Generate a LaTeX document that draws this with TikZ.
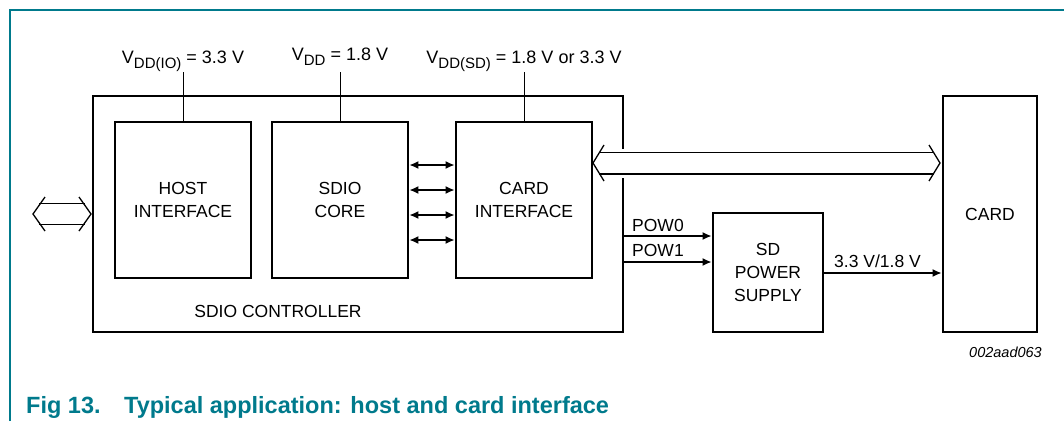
\documentclass[tikz,border=0pt]{standalone}
\usepackage{fontspec}
\setmainfont{Liberation Sans}
\usetikzlibrary{arrows.meta}
\definecolor{teal}{RGB}{0,122,140}
\newcommand{\subtxt}[1]{\raisebox{-5pt}{\fontsize{15}{15}\selectfont #1}}
\begin{document}
\begin{tikzpicture}[x=1pt,y=-1pt,
  blk/.style={draw,line width=2.8pt,inner sep=0pt,align=center,font=\fontsize{17.5}{22.8}\selectfont},
  lbl/.style={inner sep=0pt,font=\fontsize{17.5}{22.8}\selectfont},
  vlbl/.style={inner sep=0pt,font=\fontsize{18}{22}\selectfont},
  thin/.style={line width=1pt},
  sig/.style={line width=1.5pt,-{Latex[length=9pt,width=8pt]}},
  dsig/.style={line width=1.5pt,{Latex[length=9pt,width=8pt]}-{Latex[length=9pt,width=8pt]}},
  hollow/.style={line width=1.3pt,line join=miter}]
\useasboundingbox (0,0) rectangle (1064,421);
% frame
\draw[teal,line width=1.5pt] (10,421) -- (10,10) -- (1064,10);
% blocks
\node[blk,minimum width=530pt,minimum height=236pt] (ctrl) at (358,214) {};
\node[blk,minimum width=136pt,minimum height=156pt] (host) at (183,200) {HOST\\INTERFACE};
\node[blk,minimum width=136pt,minimum height=156pt] (core) at (340,200) {SDIO\\CORE};
\node[blk,minimum width=136pt,minimum height=156pt] (cif) at (524,200) {CARD\\INTERFACE};
\node[blk,minimum width=110pt,minimum height=119pt] (psu) at (768,272.5) {SD\\POWER\\SUPPLY};
\node[blk,minimum width=94pt,minimum height=236pt] (card) at (990,214) {CARD};
\node[lbl,anchor=base] (ctrllbl) at (278,317) {SDIO CONTROLLER};
% gap in controller right edge for bus
\fill[white] (621,149) rectangle (627,178);
% supply labels
\node[vlbl,anchor=base] (vio) at (183,63) {V\subtxt{DD(IO)} = 3.3 V};
\node[vlbl,anchor=base] (vdd) at (340,60) {V\subtxt{DD} = 1.8 V};
\node[vlbl,anchor=base] (vsd) at (524,63) {V\subtxt{DD(SD)} = 1.8 V or 3.3 V};
\draw[thin] (183,72) -- (host.north);
\draw[thin] (340,72) -- (core.north);
\draw[thin] (524,72) -- (cif.north);
% core <-> card interface
\foreach \yy in {165,190,215,240}
  \draw[dsig] (core.east |- 0,\yy) -- (cif.west |- 0,\yy);
% big hollow bus
\coordinate (bl) at (593,163);
\coordinate (br) at (940,163);
\draw[hollow] (604,145) -- (bl) -- (604,181);
\draw[hollow] (929,145) -- (br) -- (929,181);
\draw[hollow] (599,152.5) -- (934,152.5);
\draw[hollow] (599,174) -- (934,174);
% left hollow arrow
\coordinate (ll) at (33,214);
\coordinate (lr) at (91,214);
\draw[hollow] (45,197) -- (ll) -- (45,231);
\draw[hollow] (79,197) -- (lr) -- (79,231);
\draw[hollow] (39,203.5) -- (85,203.5);
\draw[hollow] (39,224.5) -- (85,224.5);
% POW signals
\draw[sig] (ctrl.east |- 0,236) -- (psu.west |- 0,236);
\draw[sig] (ctrl.east |- 0,262) -- (psu.west |- 0,262);
\node[lbl,anchor=base west] (p0) at (632,231) {POW0};
\node[lbl,anchor=base west] (p1) at (632,256) {POW1};
\draw[sig] (psu.east |- 0,273) -- (card.west |- 0,273);
\node[lbl,anchor=base west] (vout) at (834,267) {3.3 V/1.8 V};
% id
\node[inner sep=0pt,anchor=base east,font=\fontsize{14.5}{16}\selectfont\itshape] (id) at (1042,357) {002aad063};
% caption
\node[inner sep=0pt,anchor=base west,text=teal,font=\fontsize{23.5}{26}\selectfont\bfseries] (cap) at (26,413) {Fig 13.\hspace{1.0em}Typical application: host and card interface};
\end{tikzpicture}
\end{document}
